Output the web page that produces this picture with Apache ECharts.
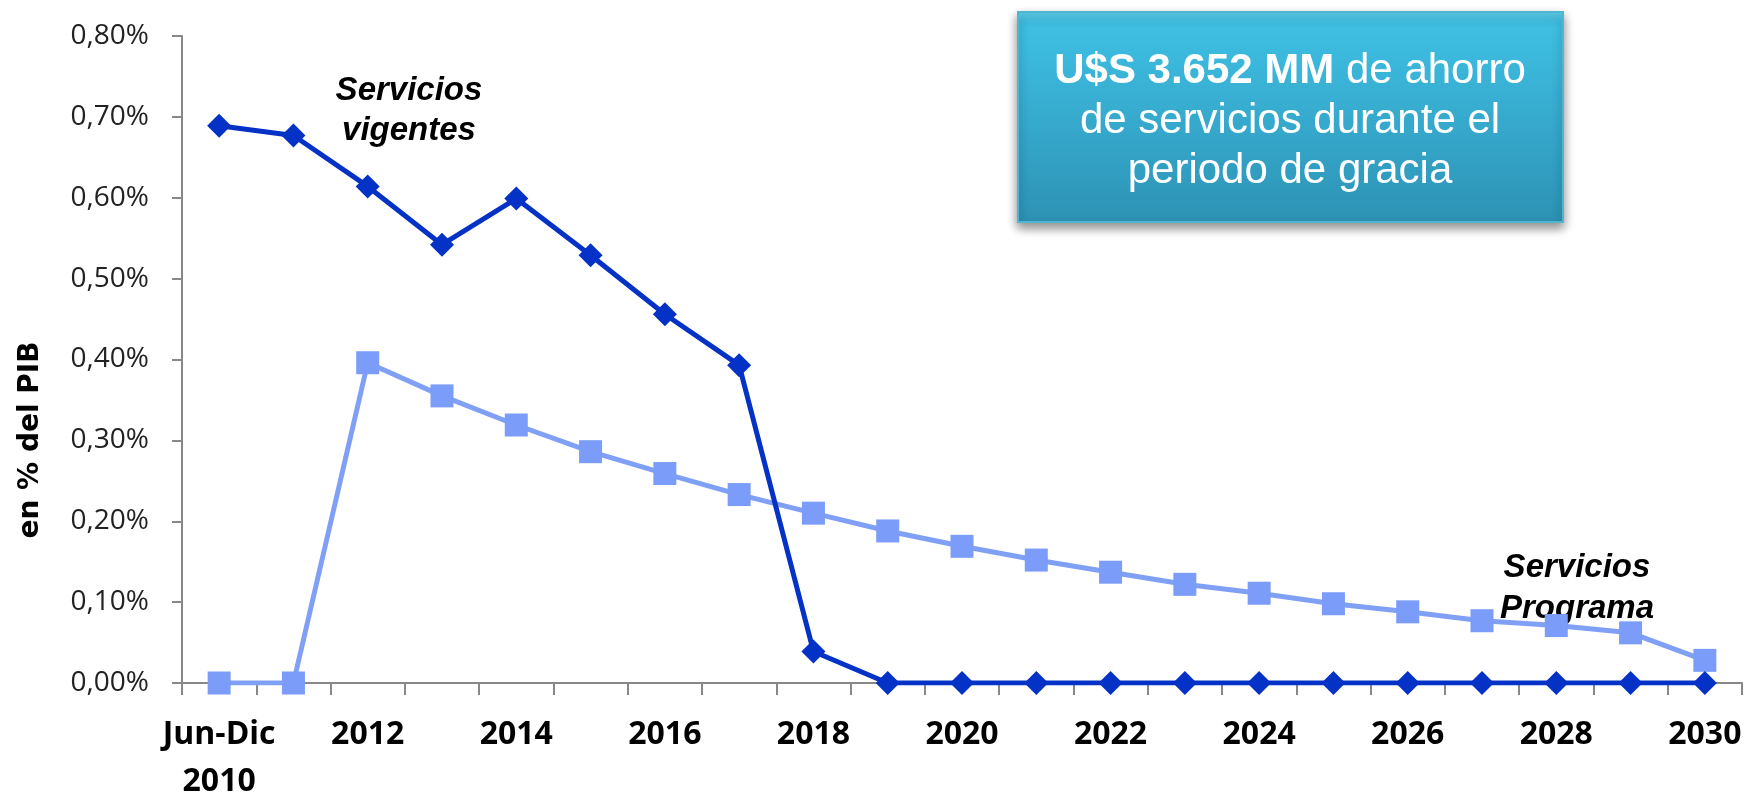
<!DOCTYPE html>
<html>
<head>
<meta charset="utf-8">
<script src="https://cdn.jsdelivr.net/npm/echarts@6/dist/echarts.min.js"></script>
<style>
  html, body { margin: 0; padding: 0; background: #fff; }
  #chart { width: 1748px; height: 805px; }
</style>
</head>
<body>
<div id="chart"></div>
<script>
  // categorías (años)
  const categories = ['Jun-Dic 2010', '2011', '2012', '2013', '2014', '2015', '2016', '2017', '2018', '2019',
    '2020', '2021', '2022', '2023', '2024', '2025', '2026', '2027', '2028', '2029', '2030'];

  // en % del PIB
  const serviciosVigentes = [0.689, 0.677, 0.614, 0.542, 0.599, 0.529, 0.456, 0.393, 0.039, 0,
    0, 0, 0, 0, 0, 0, 0, 0, 0, 0, 0];
  const serviciosPrograma = [0, 0, 0.396, 0.355, 0.319, 0.286, 0.259, 0.233, 0.210, 0.188,
    0.169, 0.152, 0.137, 0.122, 0.111, 0.098, 0.088, 0.077, 0.071, 0.062, 0.028];

  const yTicks = [0, 0.1, 0.2, 0.3, 0.4, 0.5, 0.6, 0.7, 0.8];

  const chart = echarts.init(document.getElementById('chart'));

  const option = {
    animation: false,
    grid: { left: 182, right: 6, top: 36, bottom: 112 },
    xAxis: {
      type: 'category',
      data: categories,
      boundaryGap: true,
      axisLine: { lineStyle: { color: '#888', width: 2 } },
      axisTick: { show: true, interval: 0, length: 12, lineStyle: { color: '#888', width: 2 } },
      axisLabel: {
        interval: 1,
        margin: 28,
        color: '#000',
        fontFamily: 'Open Sans',
        fontWeight: 'bold',
        fontSize: 32,
        lineHeight: 47,
        formatter: (v) => v.replace(' ', '\n'),
      },
    },
    yAxis: {
      type: 'value',
      min: yTicks[0],
      max: yTicks[yTicks.length - 1],
      interval: 0.1,
      splitLine: { show: false },
      axisLine: { show: true, lineStyle: { color: '#888', width: 2 } },
      axisTick: { show: true, length: 10, lineStyle: { color: '#888', width: 2 } },
      axisLabel: {
        margin: 33,
        color: '#222',
        fontFamily: 'Open Sans',
        fontSize: 28,
        formatter: (v) => v.toFixed(2).replace('.', ',') + '%',
      },
    },
    series: [
      {
        name: 'Servicios Programa',
        type: 'line',
        data: serviciosPrograma,
        symbol: 'rect',
        symbolSize: 23,
        lineStyle: { color: '#80a0f6', width: 5 },
        itemStyle: { color: '#7b9cf8' },
      },
      {
        name: 'Servicios vigentes',
        type: 'line',
        data: serviciosVigentes,
        symbol: 'diamond',
        symbolSize: 24,
        lineStyle: { color: '#0432c6', width: 5 },
        itemStyle: { color: '#0432c6' },
      },
    ],
    graphic: [
      {
        type: 'text',
        x: 31,
        y: 440,
        rotation: Math.PI / 2,
        style: {
          text: 'en % del PIB',
          font: 'bold 28px "DejaVu Sans"',
          fill: '#000',
          textAlign: 'center',
          textVerticalAlign: 'middle',
        },
      },
      {
        type: 'text',
        x: 409,
        y: 111,
        style: {
          text: 'Servicios\nvigentes',
          font: 'italic bold 33px "Liberation Sans"',
          lineHeight: 40,
          fill: '#000',
          textAlign: 'center',
          textVerticalAlign: 'middle',
        },
      },
      {
        type: 'text',
        x: 1577,
        y: 588,
        style: {
          text: 'Servicios\nPrograma',
          font: 'italic bold 33px "Liberation Sans"',
          lineHeight: 41,
          fill: '#000',
          textAlign: 'center',
          textVerticalAlign: 'middle',
        },
      },
      {
        type: 'rect',
        shape: { x: 1018, y: 12, width: 545, height: 210 },
        style: {
          fill: new echarts.graphic.LinearGradient(0, 0, 0, 1, [
            { offset: 0, color: '#5fd3ef' },
            { offset: 0.06, color: '#3ec0e4' },
            { offset: 1, color: '#2d92b4' },
          ]),
          stroke: '#4fb6d2',
          lineWidth: 2,
          shadowBlur: 10,
          shadowOffsetY: 5,
          shadowColor: 'rgba(0,0,0,0.45)',
        },
      },
      {
        type: 'text',
        x: 1290,
        y: 121,
        style: {
          text: '{b|U$S 3.652 MM} de ahorro\nde servicios durante el\nperiodo de gracia',
          font: '42px "Liberation Sans"',
          lineHeight: 50,
          fill: '#fff',
          textAlign: 'center',
          textVerticalAlign: 'middle',
          rich: {
            b: { fontWeight: 'bold', fontSize: 42, fontFamily: 'Liberation Sans', fill: '#fff', lineHeight: 50 },
          },
        },
      },
    ],
  };

  chart.setOption(option);
</script>
</body>
</html>
